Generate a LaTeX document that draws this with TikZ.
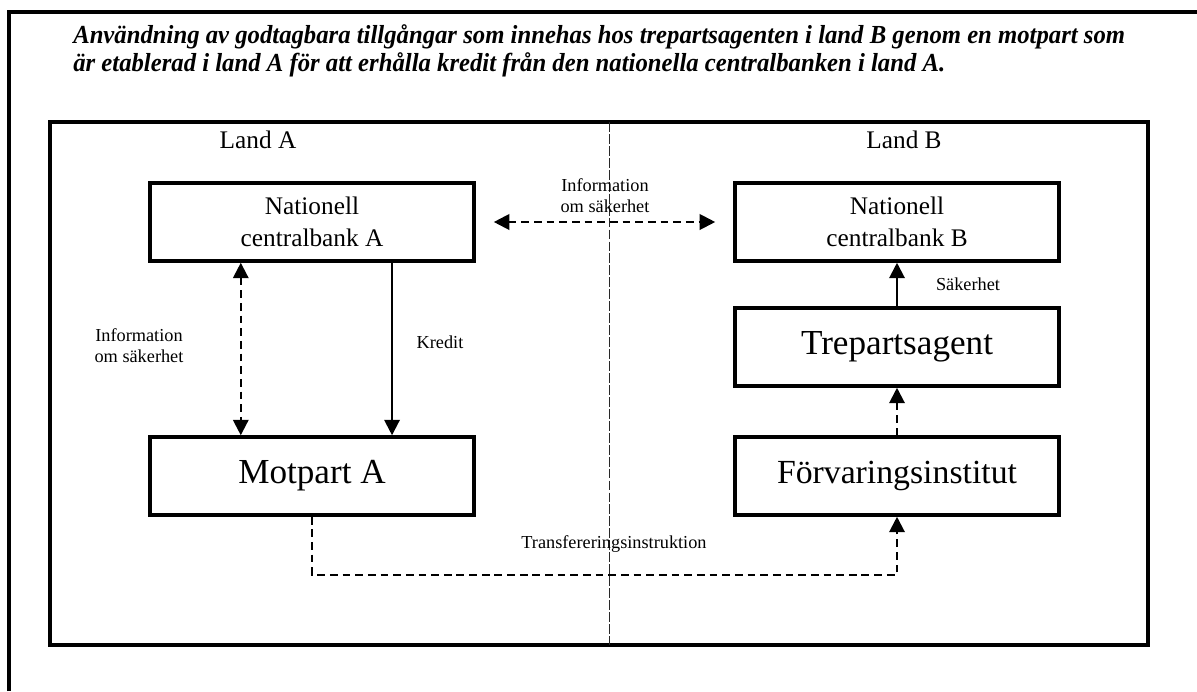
\documentclass[tikz,border=0pt]{standalone}
\usepackage{fontspec}
\setmainfont{Liberation Serif}
\usetikzlibrary{arrows.meta,calc}
\definecolor{figline}{RGB}{0,0,0}
\definecolor{figdiv}{RGB}{40,40,40}
\tikzset{
  frm/.style  ={draw=figline, line width=2.2pt},
  pnl/.style  ={draw=figline, line width=2.8pt},
  box/.style  ={draw=figline, line width=2.5pt, minimum width=8.1cm, minimum height=1.95cm, align=center, inner sep=2pt},
  tit/.style  ={font=\fontsize{18.5}{21}\selectfont\bfseries\itshape, inner sep=0pt, anchor=base west, xscale=0.95},
  lab/.style  ={font=\fontsize{18}{23}\selectfont, align=center},
  labl/.style ={font=\fontsize{25}{28}\selectfont},
  labs/.style ={font=\fontsize{13}{15}\selectfont, align=center, inner sep=1pt},
  ptr/.style  ={draw=figline, line width=1.5pt, >={Triangle[length=11pt,width=11pt]}, ->},
  dptr/.style ={ptr, dash pattern=on 5.5pt off 3.5pt},
}

\begin{document}
\begin{tikzpicture}[x=0.025cm,y=-0.025cm]
  \useasboundingbox (0,0) rectangle (1197,691);
  \draw[frm] (9,691) -- (9,12) -- (1197,12);
  \node[tit] (tit1) at (73,43) {Användning av godtagbara tillgångar som innehas hos trepartsagenten i land B genom en motpart som};
  \node[tit] (tit2) at (73,71) {är etablerad i land A för att erhålla kredit från den nationella centralbanken i land A.};
  \draw[pnl] (50,122) rectangle (1148,645);
  \draw[figdiv, line width=0.6pt, dash pattern=on 7pt off 1.5pt] (609,122) -- (609,645);
  \node[lab] (landA) at (258,140) {Land A};
  \node[lab] (landB) at (904,140) {Land B};
  \node[box,lab] (ncbA) at (312,222) {Nationell\\centralbank A};
  \node[box,lab] (ncbB) at (897,222) {Nationell\\centralbank B};
  \node[box,labl] (motA) at (312,476) {Motpart A};
  \node[box,labl] (trep) at (897,347) {Trepartsagent};
  \node[box,lab,font=\fontsize{24}{28}\selectfont] (forv) at (897,476) {Förvaringsinstitut};
  \draw[dptr,<->, shorten <=0.45cm, shorten >=0.45cm] (ncbA.east) -- (ncbB.west);
  \node[labs] (infoAB) at (605,196) {Information\\om säkerhet};
  \draw[dptr,<->] ([xshift=-1.78cm]ncbA.south) -- ([xshift=-1.78cm]motA.north);
  \node[labs] (infoA) at (139,346) {Information\\om säkerhet};
  \draw[ptr] ([xshift=2cm]ncbA.south) -- ([xshift=2cm]motA.north);
  \node[labs] (kred) at (440,342) {Kredit};
  \draw[ptr] (trep.north) -- (ncbB.south);
  \node[labs] (sak) at (968,284) {Säkerhet};
  \draw[dptr] (forv.north) -- (trep.south);
  \draw[dptr] (motA.south) -- ++(0,58) -| (forv.south);
  \node[labs] (trans) at (614,544) {Transfereringsinstruktion};
\end{tikzpicture}
\end{document}
